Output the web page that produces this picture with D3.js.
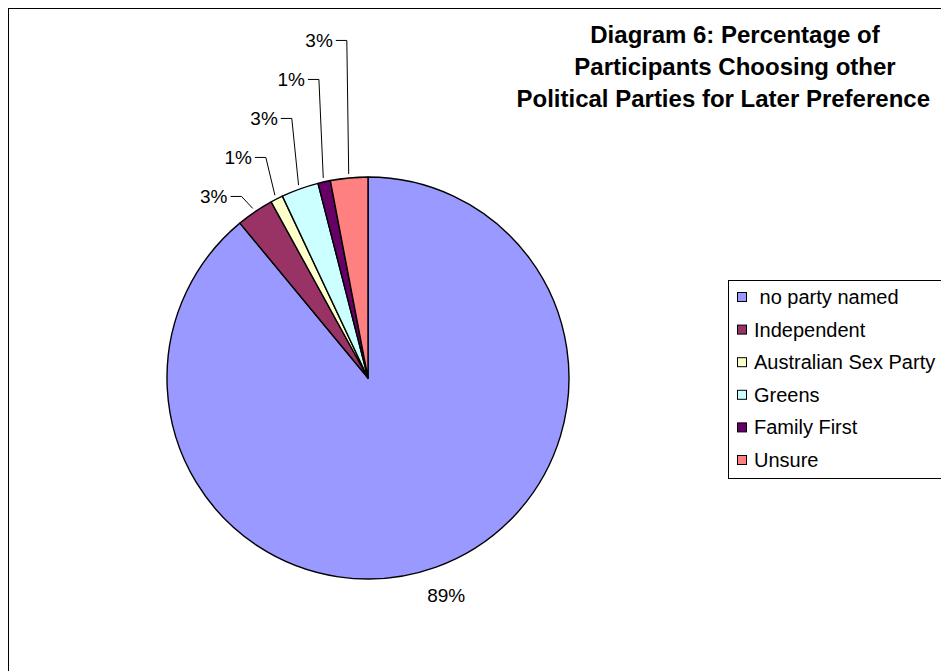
<!DOCTYPE html>
<html>
<head>
<meta charset="utf-8">
<script src="https://cdn.jsdelivr.net/npm/d3@7"></script>
<style>
  html, body { margin: 0; padding: 0; background: #fff; }
  svg { display: block; }
  text { font-family: "Liberation Sans", Arial, sans-serif; fill: #000; }
</style>
</head>
<body>
<svg id="chart" width="941" height="671"></svg>
<script>
// Survey answers: later-preference party choices (percent of participants)
const categories = ["no party named", "Independent", "Australian Sex Party", "Greens", "Family First", "Unsure"];
const values = [89, 3, 1, 3, 1, 3];
const colors = ["#9999FF", "#993366", "#FFFFCC", "#CCFFFF", "#660066", "#FF8080"];
const titleLines = [
  "Diagram 6: Percentage of",
  "Participants Choosing other",
  "Political Parties for Later Preference"
];

const svg = d3.select("#chart");
const W = 941, H = 671;

// chart area frame (runs off the right and bottom of the page)
svg.append("rect")
  .attr("x", 8.5).attr("y", 8.5)
  .attr("width", W + 50).attr("height", H + 50)
  .attr("fill", "#fff").attr("stroke", "#000").attr("stroke-width", 1);

// pie
const cx = 368, cy = 378, R = 201;
const pie = d3.pie().sort(null).value(d => d).startAngle(0).endAngle(2 * Math.PI);
const arcs = pie(values);
const arc = d3.arc().innerRadius(0).outerRadius(R);

const g = svg.append("g").attr("transform", `translate(${cx},${cy})`);
g.selectAll("path.slice")
  .data(arcs)
  .join("path")
  .attr("class", "slice")
  .attr("d", arc)
  .attr("fill", (d, i) => colors[i])
  .attr("stroke", "#000")
  .attr("stroke-width", 1.4)
  .attr("stroke-linejoin", "round");

const fmt = v => d3.format(".0f")(v) + "%";
const labelSize = 19;

// large slices: label just outside the rim
arcs.filter(a => a.data >= 5).forEach(a => {
  const mid = (a.startAngle + a.endAngle) / 2;
  const r = R + 30;
  svg.append("text")
    .attr("x", cx + r * Math.sin(mid))
    .attr("y", cy - r * Math.cos(mid))
    .attr("text-anchor", "middle")
    .attr("dominant-baseline", "central")
    .attr("font-size", labelSize)
    .text(fmt(a.data));
});

// small slices: labels stacked upward with leader lines
const small = arcs.filter(a => a.data < 5).map(a => {
  const mid = (a.startAngle + a.endAngle) / 2;
  const ex = cx + (R + 4) * Math.sin(mid);
  const ey = cy - (R + 4) * Math.cos(mid);
  return { a, mid, ex, ey };
}).sort((p, q) => q.ey - p.ey);

let prevY = Infinity;
const gap = 39;
small.forEach(p => {
  p.ly = Math.min(p.ey - 12, prevY - gap);
  prevY = p.ly;
  p.bx = p.ex + 20 * Math.sin(p.mid);
});

svg.selectAll("path.leader")
  .data(small)
  .join("path")
  .attr("class", "leader")
  .attr("d", p => `M${p.bx - 11},${p.ly}H${p.bx}L${p.ex},${p.ey}`)
  .attr("fill", "none")
  .attr("stroke", "#000")
  .attr("stroke-width", 1);

svg.selectAll("text.small-label")
  .data(small)
  .join("text")
  .attr("class", "small-label")
  .attr("x", p => p.bx - 14)
  .attr("y", p => p.ly)
  .attr("text-anchor", "end")
  .attr("dominant-baseline", "central")
  .attr("font-size", labelSize)
  .text(p => fmt(p.a.data));

// title: centred, but kept inside the right margin
const titleCx = 735, titleRight = 930;
const title = svg.append("g");
titleLines.forEach((line, i) => {
  const t = title.append("text")
    .attr("y", 43 + i * 32)
    .attr("text-anchor", "middle")
    .attr("font-size", 24)
    .attr("font-weight", "bold")
    .text(line);
  const w = t.node().getComputedTextLength();
  t.attr("x", Math.min(titleCx, titleRight - w / 2));
});

// legend
const lx = 728, ly = 280, rowH = 32.6;
const legend = svg.append("g");
legend.append("rect")
  .attr("x", lx + 0.5).attr("y", ly + 0.5)
  .attr("width", 260).attr("height", 198)
  .attr("fill", "#fff").attr("stroke", "#000").attr("stroke-width", 1);

const items = legend.selectAll("g.item")
  .data(categories)
  .join("g")
  .attr("class", "item")
  .attr("transform", (d, i) => `translate(${lx}, ${ly + 17 + i * rowH})`);

items.append("rect")
  .attr("x", 9.5).attr("y", -4.5)
  .attr("width", 9).attr("height", 9)
  .attr("fill", (d, i) => colors[i])
  .attr("stroke", "#000").attr("stroke-width", 1);

items.append("text")
  .attr("x", 26)
  .attr("y", 0)
  .attr("dominant-baseline", "central")
  .attr("font-size", 20)
  .attr("xml:space", "preserve")
  .style("white-space", "pre")
  .text((d, i) => i === 0 ? " " + d : d);
</script>
</body>
</html>
